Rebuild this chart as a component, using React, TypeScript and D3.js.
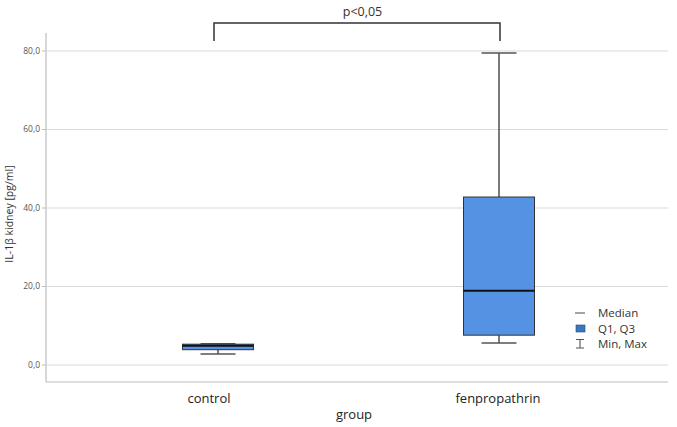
import React from "react";
import * as d3 from "d3";

const categories = ["control", "fenpropathrin"];
const minValues = [2.8, 5.6];
const q1Values = [3.9, 7.6];
const medianValues = [4.9, 18.9];
const q3Values = [5.3, 42.8];
const maxValues = [5.4, 79.5];
const yTicks = [0, 20, 40, 60, 80];
const legendItems = ["Median", "Q1, Q3", "Min, Max"];
const pText = "p<0,05";

const W = 677;
const H = 427;

export default function App() {
  const y = d3.scaleLinear().domain([0, 80]).range([365, 51]);
  const x = d3.scalePoint<string>().domain(categories).range([218, 499]);
  const fmt = (v: number) => d3.format(".1f")(v).replace(".", ",");
  const font = "'Open Sans', 'Segoe UI', sans-serif";
  const boxW = 71;
  const capW = 35;
  const cx = (c: string) => x(c) as number;
  const c0 = cx(categories[0]);
  const c1 = cx(categories[1]);

  return (
    <svg width={W} height={H} style={{ position: "absolute", left: 0, top: 0, background: "#fff" }}>
      <rect width={W} height={H} fill="#fff" />
      {yTicks.map((t) => (
        <line key={"g" + t} x1={47} x2={668} y1={y(t)} y2={y(t)} stroke="#d9d9d9" strokeWidth={1.2} />
      ))}
      <line x1={46} x2={46} y1={33} y2={382} stroke="#bdbdbd" strokeWidth={1.2} />
      <line x1={46} x2={668} y1={382} y2={382} stroke="#bdbdbd" strokeWidth={1.2} />
      {yTicks.map((t) => (
        <g key={"t" + t}>
          <line x1={42} x2={46} y1={y(t)} y2={y(t)} stroke="#bdbdbd" />
          <text x={40} y={y(t)} dy="0.35em" textAnchor="end" fontSize={8.5} fill="#555" fontFamily={font}>
            {fmt(t)}
          </text>
        </g>
      ))}
      <text
        transform={`translate(13,${(y(0) + y(80)) / 2 + 6}) rotate(-90)`}
        textAnchor="middle"
        fontSize={10.5}
        fill="#333"
        fontFamily={font}
      >
        IL-1β kidney [pg/ml]
      </text>
      {categories.map((c, i) => {
        const m = cx(c);
        return (
          <g key={c}>
            <line x1={m} x2={m} y1={y(maxValues[i])} y2={y(q3Values[i])} stroke="#333" strokeWidth={1.3} />
            <line x1={m} x2={m} y1={y(q1Values[i])} y2={y(minValues[i])} stroke="#333" strokeWidth={1.3} />
            <line x1={m - capW / 2} x2={m + capW / 2} y1={y(maxValues[i])} y2={y(maxValues[i])} stroke="#555" strokeWidth={1.5} />
            <line x1={m - capW / 2} x2={m + capW / 2} y1={y(minValues[i])} y2={y(minValues[i])} stroke="#555" strokeWidth={1.5} />
            <rect
              x={m - boxW / 2}
              y={y(q3Values[i])}
              width={boxW}
              height={y(q1Values[i]) - y(q3Values[i])}
              fill="#5592e3"
              stroke="#333"
              strokeWidth={1}
            />
            <line x1={m - boxW / 2} x2={m + boxW / 2} y1={y(medianValues[i])} y2={y(medianValues[i])} stroke="#111" strokeWidth={2} />
            <text x={m - (i === 0 ? 9 : 1)} y={403} textAnchor="middle" fontSize={13} fill="#222" fontFamily={font}>
              {c}
            </text>
          </g>
        );
      })}
      <text x={354} y={419} textAnchor="middle" fontSize={13} fill="#222" fontFamily={font}>
        group
      </text>
      <path d={`M${c0 - 4},41 V23 H${c1 + 1} V41`} fill="none" stroke="#333" strokeWidth={1.5} />
      <text x={(c0 + c1) / 2 + 4} y={16} textAnchor="middle" fontSize={12.5} fill="#333" fontFamily={font}>
        {pText}
      </text>
      <g fontFamily={font} fontSize={11.5} fill="#333">
        <line x1={575} x2={585} y1={313} y2={313} stroke="#666" strokeWidth={1.2} />
        <text x={598} y={313} dy="0.35em">{legendItems[0]}</text>
        <rect x={576} y={325} width={9} height={7} fill="#3a78c4" stroke="#2a4a70" strokeWidth={0.6} />
        <text x={598} y={328.5} dy="0.35em">{legendItems[1]}</text>
        <path d="M576,339.5 H584 M580,339.5 V348 M576,348 H584" stroke="#555" strokeWidth={1.1} fill="none" />
        <text x={598} y={344} dy="0.35em">{legendItems[2]}</text>
      </g>
    </svg>
  );
}
